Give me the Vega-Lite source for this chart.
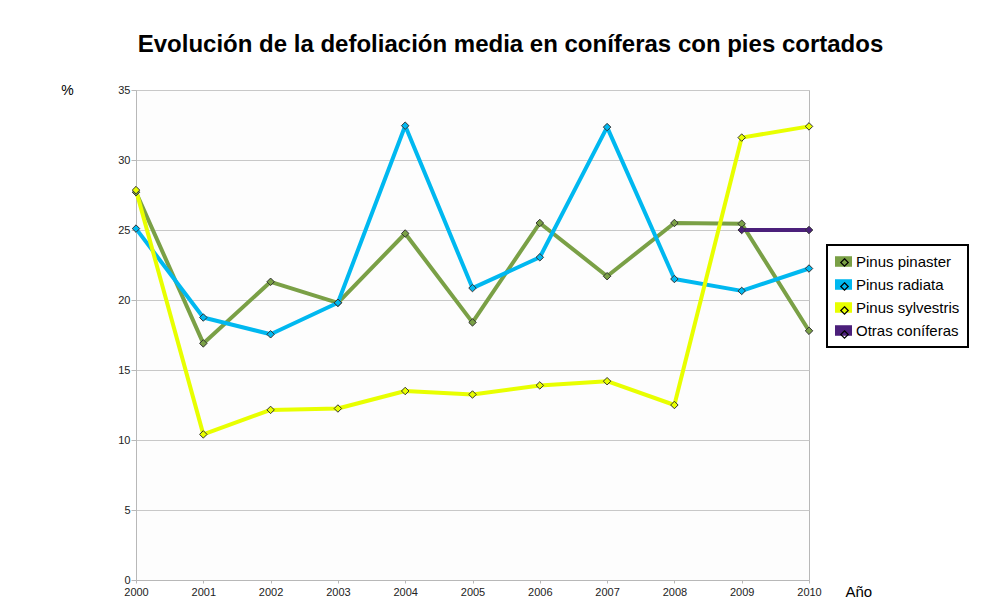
{
  "$schema": "https://vega.github.io/schema/vega-lite/v6.json",
  "autosize": {"type": "none"},
  "width": 673,
  "height": 490,
  "padding": {"left": 136, "top": 90, "right": 194, "bottom": 32},
  "background": "#ffffff",
  "config": {
    "font": "Liberation Sans",
    "view": {"stroke": "#b8b8b8", "strokeWidth": 1, "fill": "#fdfdfd"},
    "axis": {"labelFont": "Liberation Sans", "titleFont": "Liberation Sans"}
  },
  "title": {
    "text": "Evolución de la defoliación media en coníferas con pies cortados",
    "fontSize": 24,
    "fontWeight": "bold",
    "color": "#000000",
    "anchor": "middle",
    "frame": "group",
    "dx": 38,
    "baseline": "alphabetic",
    "offset": 7
  },
  "data": {
    "values": [
      {"anio": 2000, "serie": "Pinus pinaster", "valor": 27.7},
      {"anio": 2001, "serie": "Pinus pinaster", "valor": 16.9},
      {"anio": 2002, "serie": "Pinus pinaster", "valor": 21.3},
      {"anio": 2003, "serie": "Pinus pinaster", "valor": 19.8},
      {"anio": 2004, "serie": "Pinus pinaster", "valor": 24.75},
      {"anio": 2005, "serie": "Pinus pinaster", "valor": 18.4},
      {"anio": 2006, "serie": "Pinus pinaster", "valor": 25.5},
      {"anio": 2007, "serie": "Pinus pinaster", "valor": 21.7},
      {"anio": 2008, "serie": "Pinus pinaster", "valor": 25.5},
      {"anio": 2009, "serie": "Pinus pinaster", "valor": 25.45},
      {"anio": 2010, "serie": "Pinus pinaster", "valor": 17.8},
      {"anio": 2000, "serie": "Pinus radiata", "valor": 25.1},
      {"anio": 2001, "serie": "Pinus radiata", "valor": 18.75},
      {"anio": 2002, "serie": "Pinus radiata", "valor": 17.55},
      {"anio": 2003, "serie": "Pinus radiata", "valor": 19.8},
      {"anio": 2004, "serie": "Pinus radiata", "valor": 32.45},
      {"anio": 2005, "serie": "Pinus radiata", "valor": 20.85},
      {"anio": 2006, "serie": "Pinus radiata", "valor": 23.05},
      {"anio": 2007, "serie": "Pinus radiata", "valor": 32.35},
      {"anio": 2008, "serie": "Pinus radiata", "valor": 21.5},
      {"anio": 2009, "serie": "Pinus radiata", "valor": 20.65},
      {"anio": 2010, "serie": "Pinus radiata", "valor": 22.25},
      {"anio": 2000, "serie": "Pinus sylvestris", "valor": 27.85},
      {"anio": 2001, "serie": "Pinus sylvestris", "valor": 10.4},
      {"anio": 2002, "serie": "Pinus sylvestris", "valor": 12.15},
      {"anio": 2003, "serie": "Pinus sylvestris", "valor": 12.25},
      {"anio": 2004, "serie": "Pinus sylvestris", "valor": 13.5},
      {"anio": 2005, "serie": "Pinus sylvestris", "valor": 13.25},
      {"anio": 2006, "serie": "Pinus sylvestris", "valor": 13.9},
      {"anio": 2007, "serie": "Pinus sylvestris", "valor": 14.2},
      {"anio": 2008, "serie": "Pinus sylvestris", "valor": 12.5},
      {"anio": 2009, "serie": "Pinus sylvestris", "valor": 31.6},
      {"anio": 2010, "serie": "Pinus sylvestris", "valor": 32.4},
      {"anio": 2009, "serie": "Otras coníferas", "valor": 25.0},
      {"anio": 2010, "serie": "Otras coníferas", "valor": 25.0}
    ]
  },
  "encoding": {
    "x": {
      "field": "anio",
      "type": "quantitative",
      "scale": {"domain": [2000, 2010], "nice": false, "zero": false},
      "axis": {
        "values": [2000, 2001, 2002, 2003, 2004, 2005, 2006, 2007, 2008, 2009, 2010],
        "format": "d",
        "grid": false,
        "domainColor": "#b8b8b8",
        "tickColor": "#b8b8b8",
        "tickSize": 3,
        "labelPadding": 3,
        "labelFontSize": 11,
        "labelColor": "#222222",
        "labelFlush": false,
        "labelOverlap": false,
        "title": "Año",
        "titleFontSize": 15,
        "titleFontWeight": "normal",
        "titleColor": "#000000",
        "titleAnchor": "start",
        "titleAlign": "left",
        "titleBaseline": "middle",
        "titleX": 709,
        "titleY": 11
      }
    },
    "y": {
      "field": "valor",
      "type": "quantitative",
      "scale": {"domain": [0, 35], "nice": false},
      "axis": {
        "values": [0, 5, 10, 15, 20, 25, 30, 35],
        "grid": true,
        "gridColor": "#c8c8c8",
        "domainColor": "#b8b8b8",
        "tickColor": "#b8b8b8",
        "tickSize": 5,
        "labelPadding": 1,
        "labelFontSize": 11,
        "labelColor": "#222222",
        "labelFlush": false,
        "labelOverlap": false,
        "title": "%",
        "titleFontSize": 14,
        "titleFontWeight": "normal",
        "titleColor": "#000000",
        "titleAngle": 0,
        "titleAlign": "center",
        "titleBaseline": "middle",
        "titleX": -69,
        "titleY": 0
      }
    }
  },
  "layer": [
    {
      "mark": {"type": "line", "strokeWidth": 4, "strokeJoin": "round"},
      "encoding": {
        "color": {
          "field": "serie",
          "type": "nominal",
          "scale": {
            "domain": ["Pinus pinaster", "Pinus radiata", "Pinus sylvestris", "Otras coníferas"],
            "range": ["#7aa046", "#00b8f0", "#e8ff00", "#4b1f7a"]
          },
          "legend": {
            "title": null,
            "orient": "none",
            "legendX": 691,
            "legendY": 155,
            "padding": 8,
            "strokeColor": "#000000",
            "fillColor": "#ffffff",
            "symbolType": "M-1,-0.62H1V0.62H-1Z",
            "symbolSize": 289,
            "labelFontSize": 15,
            "labelColor": "#000000",
            "labelOffset": 4,
            "rowPadding": 6,
            "labelLimit": 300,
            "encode": {
              "legend": {"update": {"strokeWidth": {"value": 2}}},
              "symbols": {
                "update": {
                  "fill": {"scale": "color", "field": "value"},
                  "stroke": {"value": "transparent"},
                  "strokeWidth": {"value": 0},
                  "opacity": {"value": 1}
                }
              }
            }
          }
        }
      }
    },
    {
      "mark": {"type": "point", "filled": true, "size": 289, "stroke": "#333333", "strokeWidth": 1, "opacity": 1},
      "encoding": {
        "fill": {
          "field": "serie",
          "type": "nominal",
          "scale": {
            "domain": ["Pinus pinaster", "Pinus radiata", "Pinus sylvestris", "Otras coníferas"],
            "range": ["#7aa046", "#00b8f0", "#e8ff00", "#4b1f7a"]
          },
          "legend": null
        },
        "shape": {
          "field": "serie",
          "type": "nominal",
          "scale": {"range": ["M0,-0.44L0.44,0L0,0.44L-0.44,0Z"]},
          "legend": {
            "title": null,
            "orient": "none",
            "legendX": 691,
            "legendY": 155,
            "padding": 8,
            "symbolSize": 289,
            "symbolFillColor": "transparent",
            "symbolStrokeColor": "#000000",
            "symbolStrokeWidth": 1.2,
            "symbolOpacity": 1,
            "labelFontSize": 15,
            "labelOffset": 4,
            "rowPadding": 6,
            "labelLimit": 300,
            "labelOpacity": 0,
            "encode": {
              "symbols": {
                "update": {
                  "fill": {"value": "transparent"},
                  "fillOpacity": {"value": 0},
                  "stroke": {"value": "#000000"},
                  "strokeOpacity": {"value": 1},
                  "strokeWidth": {"value": 1.2},
                  "opacity": {"value": 1}
                }
              }
            }
          }
        }
      }
    }
  ]
}
